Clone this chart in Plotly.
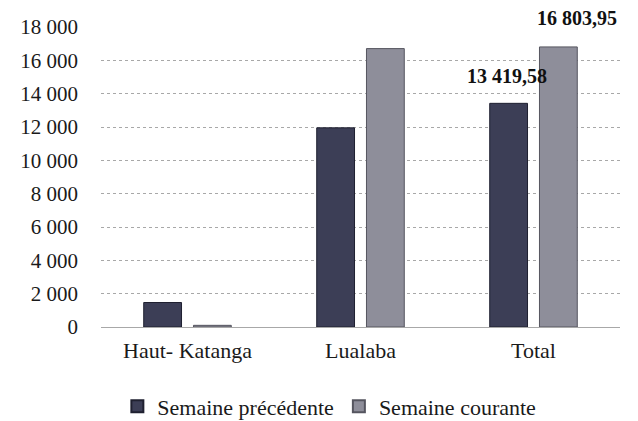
import plotly.graph_objects as go

categories = ["Haut- Katanga", "Lualaba", "Total"]
semaine_precedente = [1469.58, 11950.0, 13419.58]
semaine_courante = [100.0, 16703.95, 16803.95]
tick_vals = [0, 2000, 4000, 6000, 8000, 10000, 12000, 14000, 16000, 18000]
total_labels = ["13 419,58", "16 803,95"]

FONT = "Liberation Serif"

fig = go.Figure()
fig.add_trace(go.Bar(
    name="Semaine précédente", x=categories, y=semaine_precedente,
    marker=dict(color="#3c3e56", line=dict(color="#1f2030", width=1)),
))
fig.add_trace(go.Bar(
    name="Semaine courante", x=categories, y=semaine_courante,
    marker=dict(color="#8e8e9a", line=dict(color="#55555f", width=1)),
))

fig.add_annotation(x=categories[2], y=semaine_precedente[2], text="<b>" + total_labels[0] + "</b>",
                   showarrow=False, xshift=-27, yshift=27,
                   font=dict(family=FONT, size=20, color="#111"))
fig.add_annotation(x=categories[2], y=semaine_courante[2], text="<b>" + total_labels[1] + "</b>",
                   showarrow=False, xshift=43, yshift=29,
                   font=dict(family=FONT, size=20, color="#111"))

fig.update_layout(
    width=638, height=421,
    margin=dict(l=101, r=18, t=27, b=94, autoexpand=False),
    paper_bgcolor="white", plot_bgcolor="white",
    separators=", ",
    barmode="group", bargap=0.425, bargroupgap=0.24,
    font=dict(family=FONT, size=21, color="#1a1a1a"),
    showlegend=True,
    legend=dict(orientation="h", x=0.44, xanchor="center", xref="paper",
                y=-0.265, yanchor="middle", font=dict(family=FONT, size=22),
                itemwidth=30, itemsizing="constant", tracegroupgap=0),
    xaxis=dict(showgrid=False, showline=False, ticks="", tickfont=dict(family=FONT, size=22),
               ticklabelstandoff=8),
    yaxis=dict(range=[0, 18000], tickvals=tick_vals, tickformat=",d",
               showgrid=True, gridcolor="#a8a8a8", griddash="dot", gridwidth=1,
               zeroline=True, zerolinecolor="#a8a8a8", zerolinewidth=1,
               showline=False, ticks="", ticklabelstandoff=22,
               tickfont=dict(family=FONT, size=21)),
)

fig.write_html("out.html", config={"displayModeBar": False},
               post_script="document.body.style.margin='0px';")
